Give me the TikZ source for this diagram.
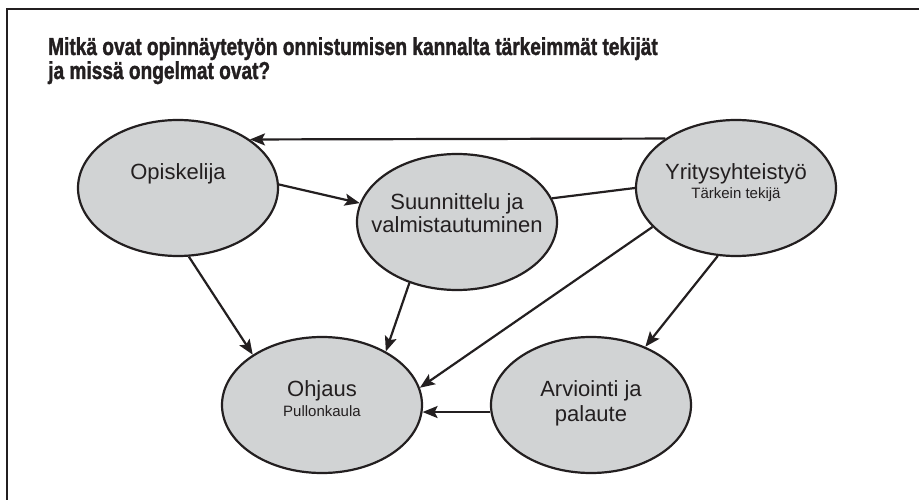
\documentclass[tikz,border=0pt]{standalone}
\usepackage{graphicx}
\usepackage{fontspec}
\setmainfont{Liberation Sans}
\newfontfamily\ttlfont{Liberation Sans}[BoldFeatures={FakeBold=1.6}]
\usetikzlibrary{shapes.geometric,arrows.meta}
\definecolor{ink}{RGB}{35,31,32}
\definecolor{bubble}{RGB}{209,211,212}
\newcommand{\ttltext}[1]{\scalebox{0.78}[1]{\ttlfont\bfseries\fontsize{24.5}{27}\selectfont #1}}
\begin{document}
\begin{tikzpicture}[x=1pt,y=-1pt,
  bubble/.style={ellipse,draw=ink,fill=bubble,line width=2.2pt,minimum width=200pt,minimum height=136pt,inner sep=0pt},
  big/.style={font=\fontsize{22}{25}\selectfont,text=ink,inner sep=0pt,anchor=base},
  small/.style={font=\fontsize{15}{18}\selectfont,text=ink,inner sep=0pt,anchor=base},
  ttl/.style={text=ink,inner sep=0pt,anchor=base west},
  conn/.style={draw=ink,line width=2.2pt},
  arr/.style={conn,-{Stealth[length=15pt,width=12pt,inset=3pt]}}]
\useasboundingbox (0,0) rectangle (919,500);
\fill[white] (0,0) rectangle (919,500);
% frame
\coordinate (fr1) at (7,500);
\coordinate (fr2) at (7,9);
\coordinate (fr3) at (919,9);
\draw[ink,line width=2.5pt] (fr1) -- (fr2) -- (fr3);
% title
\node[ttl] (t1) at (48,55) {\ttltext{Mitkä ovat opinnäytetyön onnistumisen kannalta tärkeimmät tekijät}};
\node[ttl] (t2) at (48,79) {\ttltext{ja missä ongelmat ovat?}};
% bubbles
\node[bubble] (opi) at (178,188) {};
\node[bubble] (suu) at (457,222) {};
\node[bubble] (yri) at (736,188) {};
\node[bubble] (ohj) at (322,405) {};
\node[bubble] (arv) at (591,405) {};
% labels
\node[big] (opiT) at (178,180) {Opiskelija};
\node[big] (suuT1) at (457,209) {Suunnittelu ja};
\node[big] (suuT2) at (457,233) {valmistautuminen};
\node[big] (yriT) at (736,180) {Yritysyhteistyö};
\node[small] (yriS) at (736,199) {Tärkein tekijä};
\node[big] (ohjT) at (322,396) {Ohjaus};
\node[small] (ohjS) at (322,416) {Pullonkaula};
\node[big] (arvT1) at (591,396) {Arviointi ja};
\node[big] (arvT2) at (591,421) {palaute};
% connectors
\draw[arr] (yri.145.5) -- (opi.34.5);
\draw[arr] (opi.2) -- (suu.169);
\draw[conn] (suu.14) -- (yri.180);
\draw[arr] (opi.-81.5) -- (ohj.144);
\draw[arr] (suu.232.4) -- (ohj.40);
\draw[arr] (yri.205) -- (ohj.10.2);
\draw[arr] (yri.255.3) -- (arv.47.4);
\draw[arr] (arv.184.6) -- (ohj.-4.6);
\end{tikzpicture}
\end{document}
